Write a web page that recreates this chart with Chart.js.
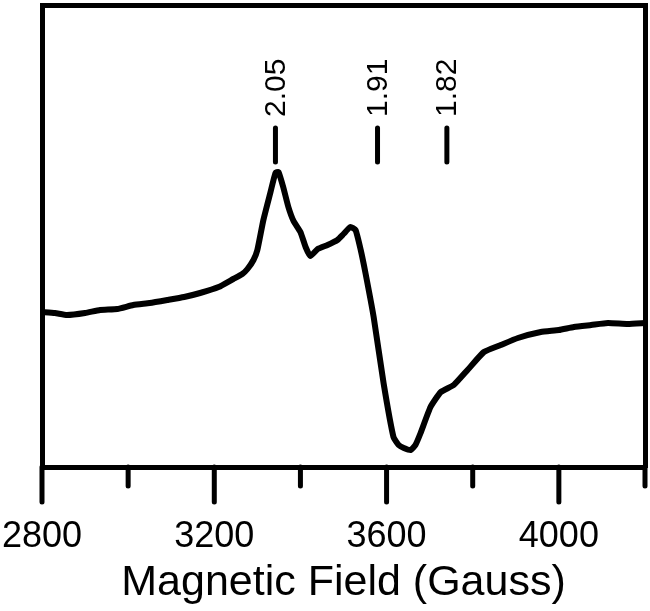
<!DOCTYPE html>
<html>
<head>
<meta charset="utf-8">
<script src="https://cdn.jsdelivr.net/npm/chart.js@4.4.1/dist/chart.umd.min.js"></script>
<style>
    html, body { margin: 0; padding: 0; background: #fff; }
    #wrap { width: 650px; height: 611px; }
</style>
</head>
<body>
<div id="wrap"><canvas id="epr"></canvas></div>
<script>
// field (Gauss) and signal (arb. units)
const field = [2800, 2830, 2858, 2900, 2935, 2975, 3012, 3050, 3091, 3130, 3167, 3210, 3244, 3265, 3277, 3291, 3300,
    3314, 3330, 3342, 3349, 3360, 3372, 3384, 3400, 3412, 3423, 3440, 3463, 3486, 3500, 3516, 3528,
    3540, 3551, 3570, 3593, 3616, 3628, 3640, 3656, 3667, 3679, 3702, 3726, 3756, 3788, 3826, 3865,
    3905, 3958, 4000, 4035, 4075, 4114, 4160, 4200];
const signal = [0, -1, -3, -1, 2, 3, 7, 9, 12, 15, 19, 25, 33, 38, 43, 52, 62,
    92, 119, 139, 140, 125, 105, 91, 80, 65, 56, 63, 67, 72, 78, 85, 82,
    62, 39, -5, -71, -125, -133, -136, -138, -133, -121, -95, -80, -73, -58, -40, -33,
    -26, -20, -18, -15, -13, -11, -12, -11];

// g-value markers
const gLabels = ['2.05', '1.91', '1.82'];
const gField = [3342, 3579, 3740];
const markLow = 150, markHigh = 184, labelBase = 195;

const xMin = 2800, xMax = 4200, yMin = -155, yMax = 307;
const majorTicks = [2800, 3200, 3600, 4000];
const minorTicks = [3000, 3400, 3800, 4200];

const datasets = [{
    data: field.map((f, i) => ({x: f, y: signal[i]})),
    borderColor: '#000',
    borderWidth: 6,
    pointRadius: 0,
    tension: 0.15,
    borderJoinStyle: 'round',
    borderCapStyle: 'round'
}];
gField.forEach(f => {
    datasets.push({
        data: [{x: f, y: markLow}, {x: f, y: markHigh}],
        borderColor: '#000',
        borderWidth: 5,
        pointRadius: 0,
        borderCapStyle: 'round'
    });
});

const tickMarks = {
    id: 'tickMarks',
    afterDraw(chart) {
        const {ctx, scales: {x, y}} = chart;
        const base = chart.chartArea.bottom;
        ctx.save();
        ctx.strokeStyle = '#000';
        ctx.lineWidth = 5;
        ctx.lineCap = 'round';
        majorTicks.forEach(v => {
            const px = x.getPixelForValue(v);
            ctx.beginPath(); ctx.moveTo(px, base); ctx.lineTo(px, base + 35); ctx.stroke();
        });
        minorTicks.forEach(v => {
            const px = x.getPixelForValue(v);
            ctx.beginPath(); ctx.moveTo(px, base); ctx.lineTo(px, base + 19); ctx.stroke();
        });
        ctx.fillStyle = '#000';
        ctx.font = '30px "Liberation Sans", Arial, sans-serif';
        ctx.textAlign = 'left';
        ctx.textBaseline = 'middle';
        gLabels.forEach((t, i) => {
            ctx.save();
            ctx.translate(x.getPixelForValue(gField[i]), y.getPixelForValue(labelBase));
            ctx.rotate(-Math.PI / 2);
            ctx.fillText(t, 0, 1);
            ctx.restore();
        });
        ctx.restore();
    }
};

const frame = {display: true, color: '#000', width: 5};
const noPad = s => { s.paddingLeft = 0; s.paddingRight = 0; s.paddingTop = 0; s.paddingBottom = 0; };

new Chart(document.getElementById('epr').getContext('2d'), {
    type: 'line',
    data: {datasets},
    options: {
        responsive: true,
        maintainAspectRatio: false,
        animation: false,
        layout: {padding: {left: 42, right: 5, top: 5, bottom: 0}},
        plugins: {legend: {display: false}, tooltip: {enabled: false}},
        scales: {
            x: {
                type: 'linear',
                position: 'bottom',
                min: xMin, max: xMax,
                border: frame,
                grid: {display: true, drawOnChartArea: false, drawTicks: true, tickLength: 36, tickColor: 'transparent'},
                ticks: {
                    stepSize: 200,
                    includeBounds: false,
                    autoSkip: false,
                    maxRotation: 0,
                    padding: 12,
                    color: '#000',
                    font: {family: '"Liberation Sans", Arial, sans-serif', size: 36},
                    callback: v => majorTicks.includes(Math.round(v)) ? String(Math.round(v)) : ''
                },
                title: {
                    display: true,
                    text: 'Magnetic Field (Gauss)',
                    color: '#000',
                    font: {family: '"Liberation Sans", Arial, sans-serif', size: 43},
                    padding: {top: 0, bottom: 2}
                },
                afterFit: s => { s.height = 144; noPad(s); }
            },
            x2: {
                type: 'linear',
                position: 'top',
                min: xMin, max: xMax,
                border: frame,
                grid: {display: false},
                ticks: {display: false},
                afterFit: s => { s.height = 0; noPad(s); }
            },
            y: {
                position: 'left',
                min: yMin, max: yMax,
                border: frame,
                grid: {display: false},
                ticks: {display: false},
                afterFit: s => { s.width = 0; noPad(s); }
            },
            y2: {
                position: 'right',
                min: yMin, max: yMax,
                border: frame,
                grid: {display: false},
                ticks: {display: false},
                afterFit: s => { s.width = 0; noPad(s); }
            }
        }
    },
    plugins: [tickMarks]
});
</script>
</body>
</html>
